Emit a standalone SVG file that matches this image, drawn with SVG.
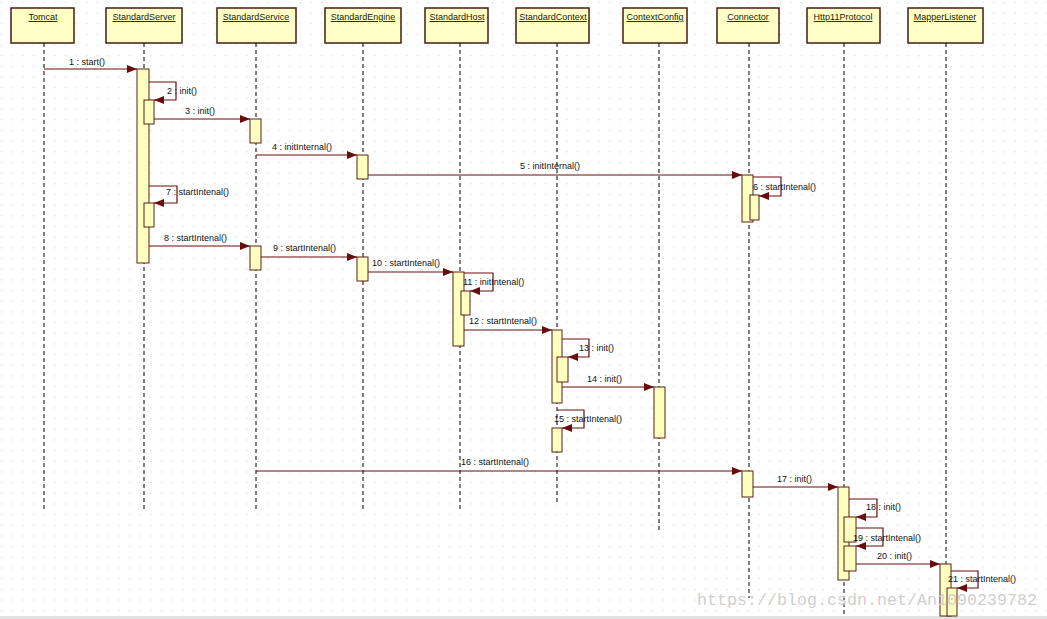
<svg xmlns="http://www.w3.org/2000/svg" width="1047" height="619" viewBox="0 0 1047 619">
<style>
.hdr{fill:#ffffc6;stroke:#4a1a14;stroke-width:1.5}
.hdt{font-family:"Liberation Sans",Arial,sans-serif;font-size:9px;fill:#1a1a1a;text-anchor:middle;text-decoration:underline}
.life{stroke:#000;stroke-width:1;stroke-dasharray:4,3;fill:none}
.act{fill:#ffffc0;stroke:#5a1e16;stroke-width:1}
.msg{stroke:#6b0c0c;stroke-width:1.2;fill:none}
.lbl{font-family:"Liberation Sans",Arial,sans-serif;font-size:9px;fill:#111}
.wm{font-family:"Liberation Mono","DejaVu Sans Mono",monospace;font-size:16.6px;fill:#cfcfcf}
</style>
<defs>
<pattern id="grid" x="1" y="2" width="10.67" height="10.67" patternUnits="userSpaceOnUse">
<rect x="0" y="0" width="1" height="1" fill="#c8c8c8"/>
</pattern>
<marker id="ah" viewBox="0 0 10 8" refX="10" refY="4" markerWidth="10" markerHeight="8" markerUnits="userSpaceOnUse" orient="auto">
<path d="M0,0 L10,4 L0,8 z" fill="#6b0c0c"/>
</marker>
</defs>
<rect width="1047" height="619" fill="#fff"/>
<rect width="1047" height="619" fill="url(#grid)"/>
<rect x="0" y="616" width="1047" height="3" fill="#e2e2e2"/>

<g id="Tomcat">
<rect class="hdr" x="11" y="8" width="63" height="35"/>
<text class="hdt" x="43" y="20">Tomcat</text>
<line class="life" x1="44" y1="43" x2="44" y2="509"/>
</g>
<g id="StandardServer">
<rect class="hdr" x="106" y="8" width="76" height="35"/>
<text class="hdt" x="144" y="20">StandardServer</text>
<line class="life" x1="144" y1="43" x2="144" y2="509"/>
<rect class="act" x="137" y="69" width="12" height="194"/>
<rect class="act" x="144" y="100" width="10" height="24"/>
<rect class="act" x="144" y="203" width="10" height="24"/>
</g>
<g id="StandardService">
<rect class="hdr" x="217" y="8" width="79" height="35"/>
<text class="hdt" x="256" y="20">StandardService</text>
<line class="life" x1="256" y1="43" x2="256" y2="509"/>
<rect class="act" x="250" y="119" width="11" height="24"/>
<rect class="act" x="250" y="246" width="11" height="24"/>
</g>
<g id="StandardEngine">
<rect class="hdr" x="325" y="8" width="76" height="35"/>
<text class="hdt" x="363" y="20">StandardEngine</text>
<line class="life" x1="363" y1="43" x2="363" y2="509"/>
<rect class="act" x="357" y="155" width="11" height="24"/>
<rect class="act" x="357" y="257" width="11" height="24"/>
</g>
<g id="StandardHost">
<rect class="hdr" x="425" y="8" width="63" height="35"/>
<text class="hdt" x="457" y="20">StandardHost</text>
<line class="life" x1="460" y1="43" x2="460" y2="509"/>
<rect class="act" x="453" y="272" width="11" height="74"/>
<rect class="act" x="461" y="291" width="9" height="24"/>
</g>
<g id="StandardContext">
<rect class="hdr" x="516" y="8" width="73" height="35"/>
<text class="hdt" x="553" y="20">StandardContext</text>
<line class="life" x1="557" y1="43" x2="557" y2="502"/>
<rect class="act" x="552" y="330" width="10" height="73"/>
<rect class="act" x="557" y="357" width="11" height="25"/>
<rect class="act" x="552" y="428" width="10" height="24"/>
</g>
<g id="ContextConfig">
<rect class="hdr" x="623" y="8" width="64" height="35"/>
<text class="hdt" x="655" y="20">ContextConfig</text>
<line class="life" x1="659" y1="43" x2="659" y2="533"/>
<rect class="act" x="654" y="387" width="11" height="51"/>
</g>
<g id="Connector">
<rect class="hdr" x="717" y="8" width="62" height="35"/>
<text class="hdt" x="748" y="20">Connector</text>
<line class="life" x1="749" y1="43" x2="749" y2="598"/>
<rect class="act" x="742" y="175" width="11" height="47"/>
<rect class="act" x="750" y="195" width="9" height="25"/>
<rect class="act" x="742" y="471" width="11" height="26"/>
</g>
<g id="Http11Protocol">
<rect class="hdr" x="807" y="8" width="73" height="35"/>
<text class="hdt" x="843" y="20">Http11Protocol</text>
<line class="life" x1="844" y1="43" x2="844" y2="616"/>
<rect class="act" x="838" y="487" width="11" height="93"/>
<rect class="act" x="844" y="517" width="12" height="25"/>
<rect class="act" x="844" y="546" width="12" height="25"/>
</g>
<g id="MapperListener">
<rect class="hdr" x="908" y="8" width="75" height="35"/>
<text class="hdt" x="945" y="20">MapperListener</text>
<line class="life" x1="946" y1="43" x2="946" y2="616"/>
<rect class="act" x="940" y="564" width="11" height="52"/>
<rect class="act" x="947" y="588" width="10" height="28"/>
</g>

<g id="connectors">
<line class="msg" x1="44" y1="69" x2="137" y2="69" marker-end="url(#ah)"/>
<text class="lbl" x="69" y="65">1 : start()</text>
<polyline class="msg" points="149,82 176,82 176,100 154,100" marker-end="url(#ah)"/>
<text class="lbl" x="167" y="94">2 : init()</text>
<line class="msg" x1="154" y1="119" x2="250" y2="119" marker-end="url(#ah)"/>
<text class="lbl" x="185" y="114">3 : init()</text>
<line class="msg" x1="256" y1="155" x2="357" y2="155" marker-end="url(#ah)"/>
<text class="lbl" x="272" y="150">4 : initInternal()</text>
<line class="msg" x1="368" y1="175" x2="742" y2="175" marker-end="url(#ah)"/>
<text class="lbl" x="520" y="169">5 : initInternal()</text>
<polyline class="msg" points="753,177 781,177 781,196 759,196" marker-end="url(#ah)"/>
<text class="lbl" x="753" y="190">6 : startIntenal()</text>
<polyline class="msg" points="149,186 177,186 177,203 154,203" marker-end="url(#ah)"/>
<text class="lbl" x="166" y="195">7 : startIntenal()</text>
<line class="msg" x1="149" y1="246" x2="250" y2="246" marker-end="url(#ah)"/>
<text class="lbl" x="164" y="241">8 : startIntenal()</text>
<line class="msg" x1="261" y1="257" x2="357" y2="257" marker-end="url(#ah)"/>
<text class="lbl" x="273" y="251">9 : startIntenal()</text>
<line class="msg" x1="368" y1="272" x2="453" y2="272" marker-end="url(#ah)"/>
<text class="lbl" x="372" y="266">10 : startIntenal()</text>
<polyline class="msg" points="464,273 493,273 493,291 470,291" marker-end="url(#ah)"/>
<text class="lbl" x="463" y="285">11 : initIntenal()</text>
<line class="msg" x1="464" y1="330" x2="552" y2="330" marker-end="url(#ah)"/>
<text class="lbl" x="469" y="324">12 : startIntenal()</text>
<polyline class="msg" points="562,339 589,339 589,357 568,357" marker-end="url(#ah)"/>
<text class="lbl" x="579" y="351">13 : init()</text>
<line class="msg" x1="562" y1="387" x2="654" y2="387" marker-end="url(#ah)"/>
<text class="lbl" x="587" y="382">14 : init()</text>
<polyline class="msg" points="557,410 584,410 584,428 562,428" marker-end="url(#ah)"/>
<text class="lbl" x="554" y="422">15 : startIntenal()</text>
<line class="msg" x1="256" y1="471" x2="742" y2="471" marker-end="url(#ah)"/>
<text class="lbl" x="461" y="465">16 : startIntenal()</text>
<line class="msg" x1="753" y1="487" x2="838" y2="487" marker-end="url(#ah)"/>
<text class="lbl" x="777" y="482">17 : init()</text>
<polyline class="msg" points="849,499 877,499 877,517 856,517" marker-end="url(#ah)"/>
<text class="lbl" x="866" y="510">18 : init()</text>
<polyline class="msg" points="856,528 883,528 883,546 856,546" marker-end="url(#ah)"/>
<text class="lbl" x="853" y="541">19 : startIntenal()</text>
<line class="msg" x1="856" y1="564" x2="940" y2="564" marker-end="url(#ah)"/>
<text class="lbl" x="877" y="559">20 : init()</text>
<polyline class="msg" points="951,571 978,571 978,588 957,588" marker-end="url(#ah)"/>
<text class="lbl" x="948" y="582">21 : startIntenal()</text>
</g>
<text class="wm" x="697" y="605" textLength="340">https://blog.csdn.net/An1090239782</text>
</svg>
